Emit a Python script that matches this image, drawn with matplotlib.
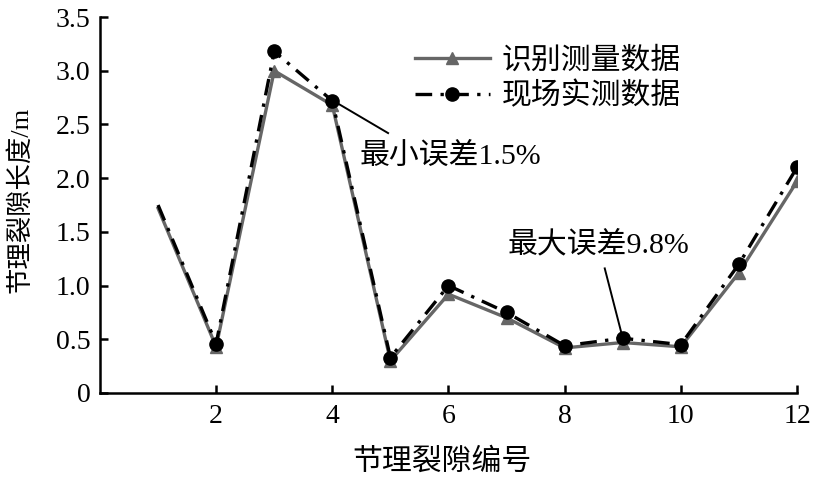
import matplotlib
matplotlib.use("Agg")
import matplotlib.pyplot as plt

plt.rcParams['font.family'] = ['Liberation Serif', 'Noto Sans CJK SC']
plt.rcParams['axes.unicode_minus'] = False

# data
idx = [1, 2, 3, 4, 5, 6, 7, 8, 9, 10, 11, 12]
measured = [1.72, 0.43, 3.00, 2.68, 0.30, 0.92, 0.70, 0.42, 0.47, 0.43, 1.12, 1.97]
field = [1.75, 0.46, 3.18, 2.72, 0.33, 1.00, 0.75, 0.44, 0.51, 0.45, 1.20, 2.10]
xticks = [2, 4, 6, 8, 10, 12]
yticks = [0, 0.5, 1.0, 1.5, 2.0, 2.5, 3.0, 3.5]
yticklabels = ["0", "0.5", "1.0", "1.5", "2.0", "2.5", "3.0", "3.5"]

fig = plt.figure(figsize=(8.29, 4.88), dpi=100)
ax = fig.add_axes([0.1206, 0.1947, 0.8408, 0.7703])

ax.plot(idx, measured, color='#666666', lw=2.4, marker='^', ms=8,
        markevery=list(range(1, 12)), label='识别测量数据', zorder=2)
ax.plot(idx, field, color='black', lw=2.4, ls=(0, (5, 2.5, 1, 2.5)),
        marker='o', ms=9.5, markevery=list(range(1, 12)),
        label='现场实测数据', zorder=3)

ax.set_xlim(0, 12)
ax.set_ylim(0, 3.5)
ax.set_xticks(xticks)
ax.set_yticks(yticks)
ax.set_yticklabels(yticklabels)
ax.tick_params(direction='in', length=6, width=1.8, labelsize=20)
ax.tick_params(axis='y', pad=7)
ax.tick_params(axis='x', pad=8)
for s in ['top', 'right']:
    ax.spines[s].set_visible(False)
for s in ['left', 'bottom']:
    ax.spines[s].set_linewidth(1.8)

ax.set_xlabel('节理裂隙编号', fontsize=21.5, va='center')
ax.xaxis.set_label_coords(0.49, -0.1835)
ax.set_ylabel('节理裂隙长度/m', fontsize=19, va='center')
ax.yaxis.set_label_coords(-0.115, 0.513)

ax.legend(loc='upper left', bbox_to_anchor=(0.452, 0.92), frameon=False,
          fontsize=21.5, handlelength=2.5, handletextpad=0.4,
          labelspacing=0.25, borderpad=0, borderaxespad=0)

# annotations
ax.plot([4.05, 4.96], [2.71, 2.42], color='black', lw=1.4, zorder=4)
ax.text(4.475, 2.20, '最小误差1.5%', fontsize=21.5, ha='left', va='center')
ax.plot([8.69, 9.0], [1.16, 0.51], color='black', lw=1.4, zorder=4)
ax.text(7.02, 1.38, '最大误差9.8%', fontsize=21.5, ha='left', va='center')

fig.savefig('out.png', dpi=100)
